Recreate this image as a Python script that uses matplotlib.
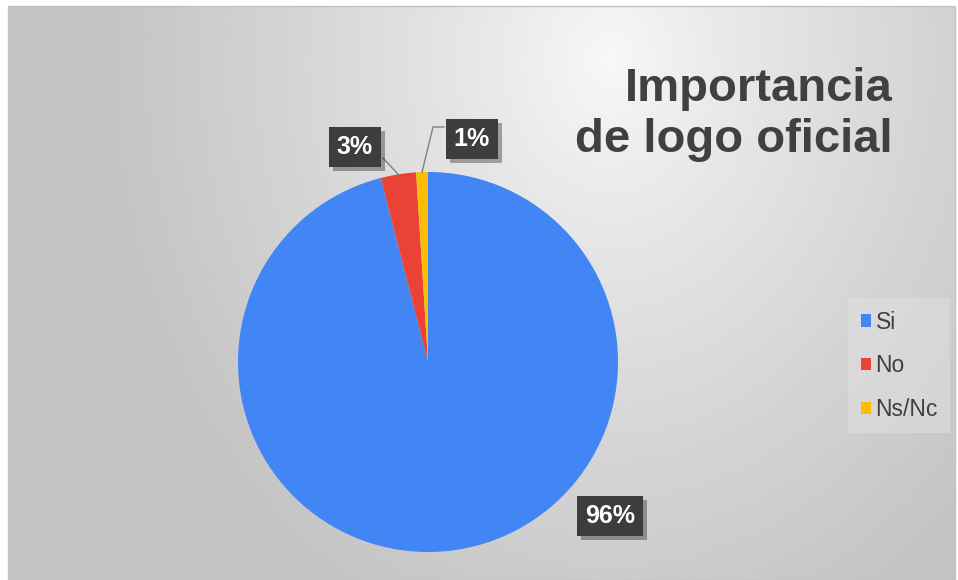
import numpy as np
import matplotlib.pyplot as plt
from matplotlib import patheffects as pe
from matplotlib.patches import Rectangle

categorias = ["Si", "No", "Ns/Nc"]
porcentajes = [96, 3, 1]
colores = ["#4285F4", "#EA4335", "#FBBC04"]
titulo = "Importancia\nde logo oficial"

W, H = 958, 580
fig = plt.figure(figsize=(W / 100, H / 100), dpi=100)
ax = fig.add_axes([0, 0, 1, 1])  # ejes en pixeles de la figura

# fondo del grafico con degradado gris
x0, x1, y0, y1 = 8, 955, 0, 574
xx, yy = np.meshgrid(np.linspace(x0, x1, 480), np.linspace(y0, y1, 290))
t = np.sqrt(((xx - 610) / 500) ** 2 + ((yy - 520) / 620) ** 2)
gris = 248 - 52 * np.clip(t, 0, 1) ** 0.85
ax.imshow(gris, cmap="gray", vmin=0, vmax=255, extent=(x0, x1, y0, y1),
          origin="lower", aspect="auto", interpolation="bilinear", zorder=0)
ax.add_patch(Rectangle((x0, y0), x1 - x0, y1 - y0, fill=False,
                       edgecolor="#c2c2c2", lw=1, zorder=1))

# circulo
centro = (428, 218)
radio = 190
cunas, _ = ax.pie(porcentajes, colors=colores, startangle=90, counterclock=False,
                  center=centro, radius=radio, frame=True,
                  wedgeprops=dict(linewidth=0, zorder=2))

ax.set_xlim(0, W)
ax.set_ylim(0, H)
ax.set_aspect("auto")
ax.axis("off")

# etiquetas de datos (posicion de cada caja y punto de inicio de la guia)
pos_etiquetas = [(610, 64), (355, 433), (472, 441)]
guias = [None, [(383, 422)], [(444, 453), (433, 453)]]

for cuna, v, (lx, ly), guia in zip(cunas, porcentajes, pos_etiquetas, guias):
    ang = np.deg2rad((cuna.theta1 + cuna.theta2) / 2)
    borde = (centro[0] + radio * np.cos(ang), centro[1] + radio * np.sin(ang))
    if guia:
        pts = guia + [borde]
        ax.plot([p[0] for p in pts], [p[1] for p in pts], color="#7f7f7f",
                lw=1, zorder=3)
    txt = ax.text(lx, ly, f"{v}%", ha="center", va="center", color="white",
                  fontsize=18, fontweight="bold", family="Liberation Sans",
                  zorder=4,
                  bbox=dict(boxstyle="square,pad=0.32", facecolor="#3d3d3d",
                            edgecolor="none"))
    txt.get_bbox_patch().set_path_effects(
        [pe.SimplePatchShadow(offset=(3, -3), alpha=0.35), pe.Normal()])

# titulo
ax.text(893, 513, titulo, ha="right", va="top", multialignment="right",
        fontsize=34, fontweight="bold", color="#404040",
        family="Liberation Sans", linespacing=1.22, zorder=4)

# leyenda
leg = ax.legend(cunas, categorias, loc="upper left", bbox_to_anchor=(848, 282),
                bbox_transform=ax.transData, frameon=True, fancybox=False,
                facecolor="#e0e0e0", edgecolor="none", framealpha=0.55,
                prop=dict(family="Liberation Sans", size=16.5),
                labelcolor="#404040", handlelength=0.45, handleheight=0.45,
                handletextpad=0.2, labelspacing=0.9, borderpad=0.55,
                borderaxespad=0)
leg.set_zorder(4)

fig.savefig("out.png", dpi=100)
